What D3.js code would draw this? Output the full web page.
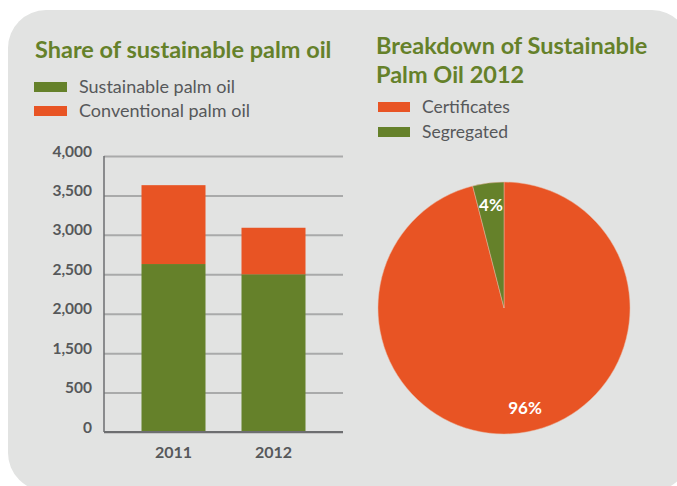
<!DOCTYPE html>
<html>
<head>
<meta charset="utf-8">
<script src="https://cdn.jsdelivr.net/npm/d3@7"></script>
<style>
  html, body { margin: 0; padding: 0; background: #ffffff; }
  svg { display: block; }
  text { font-family: Lato, "Open Sans", sans-serif; }
</style>
</head>
<body>
<svg id="chart" width="677" height="486"></svg>
<script>
// ---- Data ----
const years = ["2011", "2012"];
const sustainable = [2630, 2500];
const conventional = [1000, 590];
const barSeries = ["Sustainable palm oil", "Conventional palm oil"];
const yTickValues = [500, 1000, 1500, 2000, 2500, 3000, 3500, 4000];
const yTickLabels = ["0", "500", "1,500", "2,000", "2,500", "3,000", "3,500", "4,000"];

const pieCategories = ["Certificates", "Segregated"];
const pieValues = [96, 4];
const pieLabels = ["96%", "4%"];

// ---- Styles ----
const GREEN = "#65812a";
const ORANGE = "#e85424";
const GRAY_TEXT = "#56585a";
const PANEL = "#e2e3e2";

const svg = d3.select("#chart");

svg.append("rect")
  .attr("x", 8).attr("y", 10)
  .attr("width", 682).attr("height", 481)
  .attr("rx", 38).attr("ry", 38)
  .attr("fill", PANEL);

// ---- Left: stacked bar chart ----
svg.append("text")
  .attr("x", 35).attr("y", 58)
  .attr("fill", GREEN)
  .attr("font-size", 23.5).attr("font-weight", 700)
  .text("Share of sustainable palm oil");

const barColors = [GREEN, ORANGE];
const leg1 = svg.append("g");
barSeries.forEach((s, i) => {
  leg1.append("rect")
    .attr("x", 34).attr("y", 82 + i * 24)
    .attr("width", 33).attr("height", 10)
    .attr("fill", barColors[i]);
  leg1.append("text")
    .attr("x", 79).attr("y", 93 + i * 24)
    .attr("fill", GRAY_TEXT)
    .attr("font-size", 18)
    .text(s);
});

const plot = { left: 104, right: 343, top: 156, bottom: 432 };

const x = d3.scaleBand()
  .domain(years)
  .range([plot.left, plot.right])
  .paddingInner(0.36)
  .paddingOuter(0.375);

const y = d3.scaleLinear()
  .domain([500, 4000])
  .range([plot.bottom, plot.top])
  .clamp(true);

// Gridlines + labels
const yAxis = d3.axisLeft(y)
  .tickValues(yTickValues)
  .tickFormat((d, i) => yTickLabels[i])
  .tickSize(-(plot.right - plot.left))
  .tickPadding(12);

const yg = svg.append("g")
  .attr("transform", `translate(${plot.left},0)`)
  .call(yAxis);
yg.select(".domain").remove();
yg.selectAll(".tick line")
  .attr("stroke", "#a9aaaa")
  .attr("stroke-width", 2);
yg.selectAll(".tick text")
  .attr("fill", GRAY_TEXT)
  .attr("font-size", 15.5)
  .attr("font-weight", 700)
  .attr("font-family", "Lato, 'Open Sans', sans-serif")
  .attr("dy", "0em");

// Stacked bars
const rows = years.map((yr, i) => ({ year: yr, s: sustainable[i], c: conventional[i] }));
const stack = d3.stack().keys(["s", "c"]);
const stacked = stack(rows);

svg.append("g")
  .selectAll("g")
  .data(stacked)
  .join("g")
  .attr("fill", (d, i) => barColors[i])
  .selectAll("rect")
  .data(d => d)
  .join("rect")
  .attr("x", d => x(d.data.year))
  .attr("width", x.bandwidth())
  .attr("y", d => y(d[1]))
  .attr("height", d => y(d[0]) - y(d[1]));

// Axis lines
svg.append("line")
  .attr("x1", plot.left).attr("x2", plot.left)
  .attr("y1", plot.top).attr("y2", plot.bottom)
  .attr("stroke", "#6d6e70").attr("stroke-width", 1.5);

const xAxis = d3.axisBottom(x).tickSize(0).tickPadding(15);
const xg = svg.append("g")
  .attr("transform", `translate(0,${plot.bottom})`)
  .call(xAxis);
xg.select(".domain")
  .attr("d", `M${plot.left},0H${plot.right}`)
  .attr("stroke", "#6d6e70").attr("stroke-width", 2);
xg.selectAll(".tick text")
  .attr("fill", GRAY_TEXT)
  .attr("font-size", 16)
  .attr("font-weight", 700)
  .attr("font-family", "Lato, 'Open Sans', sans-serif");

// ---- Right: pie chart ----
const t2 = svg.append("text")
  .attr("x", 376).attr("y", 54)
  .attr("fill", GREEN)
  .attr("font-size", 23.5).attr("font-weight", 700);
t2.append("tspan").attr("x", 376).attr("y", 54).text("Breakdown of Sustainable");
t2.append("tspan").attr("x", 376).attr("y", 83).text("Palm Oil 2012");

const pieColors = [ORANGE, GREEN];
const leg2 = svg.append("g");
pieCategories.forEach((c, i) => {
  leg2.append("rect")
    .attr("x", 378).attr("y", 102 + i * 25)
    .attr("width", 32).attr("height", 10)
    .attr("fill", pieColors[i]);
  leg2.append("text")
    .attr("x", 422).attr("y", 113 + i * 25)
    .attr("fill", GRAY_TEXT)
    .attr("font-size", 17.5)
    .text(c);
});

const cx = 504, cy = 308, r = 126;
const pie = d3.pie().sort(null).value(d => d);
const arcs = pie(pieValues);
const arc = d3.arc().innerRadius(0).outerRadius(r);
const labelArc = d3.arc().innerRadius(104).outerRadius(104);

const pg = svg.append("g").attr("transform", `translate(${cx},${cy})`);
pg.selectAll("path")
  .data(arcs)
  .join("path")
  .attr("d", arc)
  .attr("fill", (d, i) => pieColors[i])
  .attr("stroke", "#e9b7a0")
  .attr("stroke-width", 0.5);

pg.selectAll("text.lbl")
  .data(arcs)
  .join("text")
  .attr("class", "lbl")
  .attr("transform", (d, i) => {
    const [px, py] = labelArc.centroid(d);
    return `translate(${px + (i === 0 ? 8 : 0)},${py + (i === 0 ? -3 : 0)})`;
  })
  .attr("text-anchor", "middle")
  .attr("dy", "0.35em")
  .attr("fill", "#ffffff")
  .attr("font-size", 17)
  .attr("font-weight", 700)
  .text((d, i) => pieLabels[i]);
</script>
</body>
</html>
